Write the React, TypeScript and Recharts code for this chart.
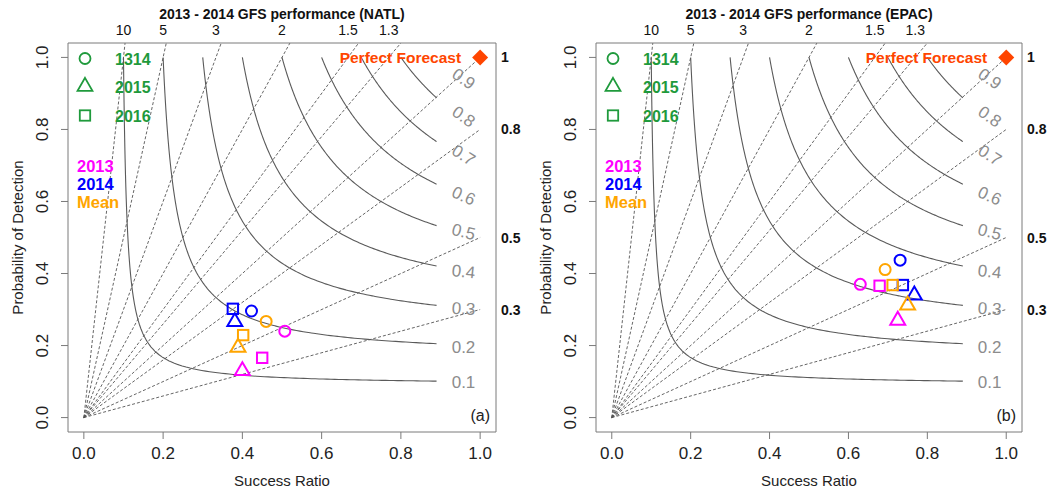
import React from 'react';
import { ComposedChart, Line, Scatter, XAxis, YAxis, ReferenceLine, ReferenceDot } from 'recharts';

const FONT = '"Liberation Sans", Arial, Helvetica, sans-serif';

// ---- reference isolines of the performance diagram ----
const csiLevels = [0.1, 0.2, 0.3, 0.4, 0.5, 0.6, 0.7, 0.8, 0.9];
const csiLabelSR = 0.958;
const csiLabelPOD = [0.097, 0.195, 0.302, 0.405, 0.515, 0.615, 0.728, 0.835, 0.94];
const biasLevels = [0.3, 0.5, 0.8, 1, 1.3, 1.5, 2, 3, 5, 10];
const biasTopLabels = [10, 5, 3, 2, 1.5, 1.3];
const biasRightLabels = [1, 0.8, 0.5, 0.3];
const axisTicks = [0, 0.2, 0.4, 0.6, 0.8, 1.0];
const srEnd = 0.89;

// ---- legend categories ----
const seasons = ['1314', '2015', '2016'];
const seasonShapes = ['circle', 'triangle', 'square'];
const groups = ['2013', '2014', 'Mean'];

// ---- NATL values (order: 1314, 2015, 2016) ----
const natl2013SR = [0.507, 0.4, 0.45];
const natl2013POD = [0.24, 0.13, 0.166];
const natl2014SR = [0.423, 0.381, 0.376];
const natl2014POD = [0.296, 0.266, 0.302];
const natlMeanSR = [0.46, 0.389, 0.402];
const natlMeanPOD = [0.267, 0.195, 0.229];

// ---- EPAC values (order: 1314, 2015, 2016) ----
const epac2013SR = [0.63, 0.725, 0.679];
const epac2013POD = [0.37, 0.27, 0.366];
const epac2014SR = [0.731, 0.767, 0.738];
const epac2014POD = [0.437, 0.34, 0.368];
const epacMeanSR = [0.693, 0.75, 0.712];
const epacMeanPOD = [0.411, 0.312, 0.368];

// styles
const groupColors = ['#ff00ff', '#0000ff', '#ffa500'];
const legendGreen = '#1f9a3c';
const csiLabelAngles = [0, 0, 3, 6, 14, 24, 33, 35, 35];
const DOMAIN: [number, number] = [-0.04, 1.04];

function csiCurve(c: number) {
  const podOf = (sr: number) => 1 / (1 / c - 1 / sr + 1);
  const srOf = (pod: number) => 1 / (1 / c - 1 / pod + 1);
  const podEnd = podOf(srEnd);
  const xs: number[] = [];
  const n = 80;
  for (let i = 0; i <= n; i++) xs.push(c + ((srEnd - c) * i) / n);
  for (let i = 1; i < n; i++) xs.push(srOf(1 - ((1 - podEnd) * i) / n));
  xs.sort((a, b) => a - b);
  return xs.map((x) => ({ x, y: podOf(x) }));
}

const csiCurves = csiLevels.filter((c) => c < srEnd).map((c) => ({ c, pts: csiCurve(c) }));
const csiLabelData = csiLevels.map((c, i) => ({ x: csiLabelSR, y: csiLabelPOD[i], label: String(c), i }));

function buildGroup(sr: number[], pod: number[]) {
  return seasons.map((s, i) => ({ x: sr[i], y: pod[i], kind: seasonShapes[i] }));
}

const natlGroups = [
  buildGroup(natl2013SR, natl2013POD),
  buildGroup(natl2014SR, natl2014POD),
  buildGroup(natlMeanSR, natlMeanPOD),
];
const epacGroups = [
  buildGroup(epac2013SR, epac2013POD),
  buildGroup(epac2014SR, epac2014POD),
  buildGroup(epacMeanSR, epacMeanPOD),
];

function Symbol({ kind, cx, cy, color, sw = 2 }: any) {
  if (kind === 'circle') return <circle cx={cx} cy={cy} r={5.5} fill="none" stroke={color} strokeWidth={sw} />;
  if (kind === 'square')
    return <rect x={cx - 5.2} y={cy - 5.2} width={10.4} height={10.4} fill="none" stroke={color} strokeWidth={sw} />;
  const r = 8.6;
  const pts = `${cx},${cy - r} ${cx + r * 0.866},${cy + r / 2} ${cx - r * 0.866},${cy + r / 2}`;
  return <polygon points={pts} fill="none" stroke={color} strokeWidth={sw} strokeLinejoin="miter" />;
}

const H = 492;
const TOP_H = 43;
const BOT_H = 60;

function Panel({ left, yW, rW, title, letter, data }: any) {
  const W = 530;
  const boxL = yW;
  const boxR = W - rW;
  const boxT = TOP_H;
  const boxB = H - BOT_H;
  const cxBox = (boxL + boxR) / 2;
  const cyBox = (boxT + boxB) / 2;
  const axisColor = '#7a7a7a';

  const LeftTick = (p: any) => {
    const x = p.x - 18;
    return (
      <text x={x} y={p.y} transform={`rotate(-90 ${x} ${p.y})`} textAnchor="middle" dominantBaseline="central"
        fontSize={17} fontFamily={FONT} fill="#222">{Number(p.payload.value).toFixed(1)}</text>
    );
  };
  const BottomTick = (p: any) => (
    <text x={p.x} y={p.y + 20} textAnchor="middle" fontSize={17} fontFamily={FONT} fill="#222">
      {Number(p.payload.value).toFixed(1)}
    </text>
  );
  const TopTick = (p: any) => (
    <text x={p.x} y={p.y - 8} textAnchor="middle" fontSize={14} fontFamily={FONT} fill="#111">
      {String(biasTopLabels[p.index])}
    </text>
  );
  const RightTick = (p: any) => (
    <text x={p.x + 5} y={p.y} textAnchor="start" dominantBaseline="central" fontSize={14} fontWeight="bold"
      fontFamily={FONT} fill="#111">
      {String(p.payload.value)}
    </text>
  );

  return (
    <div style={{ position: 'absolute', left, top: 0, width: W, height: H }}>
      <ComposedChart width={W} height={H} margin={{ top: 0, right: 0, bottom: 0, left: 0 }}>
        <XAxis xAxisId={0} dataKey="x" type="number" domain={DOMAIN} allowDataOverflow ticks={axisTicks} interval={0}
          height={BOT_H} tickSize={7} tickMargin={0} stroke={axisColor} tick={BottomTick}
          axisLine={{ stroke: axisColor }} tickLine={{ stroke: axisColor }} />
        <XAxis xAxisId="top" orientation="top" dataKey="x" type="number" domain={DOMAIN} allowDataOverflow
          ticks={biasTopLabels.map((b) => 1 / b)} interval={0} height={TOP_H} tickSize={0} tickMargin={0}
          tick={TopTick} tickLine={false} axisLine={{ stroke: axisColor }} />
        <YAxis yAxisId={0} type="number" domain={DOMAIN} allowDataOverflow ticks={axisTicks} interval={0} width={yW}
          tickSize={7} tickMargin={0} tick={LeftTick} axisLine={{ stroke: axisColor }} tickLine={{ stroke: axisColor }} />
        <YAxis yAxisId="right" orientation="right" type="number" domain={DOMAIN} allowDataOverflow
          ticks={biasRightLabels} interval={0} width={rW} tickSize={0} tickMargin={0} tick={RightTick}
          tickLine={false} axisLine={{ stroke: axisColor }} />

        {csiCurves.map(({ c, pts }) => (
          <Line key={'csi' + c} data={pts} dataKey="y" type="linear" dot={false} activeDot={false}
            stroke="#5a5a5a" strokeWidth={1.1} isAnimationActive={false} />
        ))}

        {biasLevels.map((b) => (
          <ReferenceLine key={'b' + b} ifOverflow="visible"
            segment={b <= 1 ? [{ x: 0, y: 0 }, { x: 1, y: b }] : [{ x: 0, y: 0 }, { x: DOMAIN[1] / b, y: DOMAIN[1] }]}
            stroke="#555" strokeWidth={0.9} strokeDasharray="3 2" />
        ))}

        <Scatter data={csiLabelData} dataKey="y" isAnimationActive={false}
          shape={(p: any) => (
            <text x={p.cx} y={p.cy} textAnchor="middle" dominantBaseline="central" fontSize={17} fontFamily={FONT}
              fill="#8c8c8c" transform={`rotate(${csiLabelAngles[p.payload.i]} ${p.cx} ${p.cy})`}>
              {p.payload.label}
            </text>
          )} />

        {data.map((g: any[], gi: number) => (
          <Scatter key={'g' + gi} data={g} dataKey="y" isAnimationActive={false}
            shape={(p: any) => <Symbol kind={p.payload.kind} cx={p.cx} cy={p.cy} color={groupColors[gi]} />} />
        ))}

        <ReferenceDot xAxisId="top" yAxisId="right" x={1} y={1} ifOverflow="visible"
          shape={(p: any) => (
            <g>
              <text x={p.cx - 19} y={p.cy + 6} textAnchor="end" fontSize={15.5} fontWeight="bold" fontFamily={FONT}
                fill="#ff4500">Perfect Forecast</text>
              <polygon points={`${p.cx},${p.cy - 8} ${p.cx + 8},${p.cy} ${p.cx},${p.cy + 8} ${p.cx - 8},${p.cy}`}
                fill="#ff4500" />
            </g>
          )} />
      </ComposedChart>

      <svg width={W} height={H} style={{ position: 'absolute', left: 0, top: 0, pointerEvents: 'none' }}>
        <text x={cxBox} y={19} textAnchor="middle" fontSize={14} fontWeight="bold" fontFamily={FONT} fill="#111">{title}</text>
        <text x={cxBox} y={486} textAnchor="middle" fontSize={15} fontFamily={FONT} fill="#222">Success Ratio</text>
        <text x={boxL - 51} y={cyBox} transform={`rotate(-90 ${boxL - 51} ${cyBox})`} textAnchor="middle"
          dominantBaseline="central" fontSize={15} fontFamily={FONT} fill="#222">Probability of Detection</text>

        {seasons.map((s, i) => {
          const base = [65, 93, 122][i];
          return (
            <g key={s}>
              <Symbol kind={seasonShapes[i]} cx={boxL + 17} cy={base - 6.5} color={legendGreen} sw={1.8} />
              <text x={boxL + 47} y={base} fontSize={16} fontWeight="bold" fontFamily={FONT} fill={legendGreen}>{s}</text>
            </g>
          );
        })}
        {groups.map((g, i) => (
          <text key={g} x={boxL + 9} y={[172, 189.5, 207.5][i]} fontSize={16.5} fontWeight="bold" fontFamily={FONT}
            fill={groupColors[i]}>{g}</text>
        ))}
        <text x={boxR - 6} y={421} textAnchor="end" fontSize={16} fontFamily={FONT} fill="#222">{letter}</text>
      </svg>
    </div>
  );
}

export default function App() {
  return (
    <div style={{ position: 'absolute', left: 0, top: 0, width: 1061, height: 492, background: '#fff' }}>
      <Panel left={0} yW={68} rW={34} title="2013 - 2014 GFS performance (NATL)" letter="(a)" data={natlGroups} />
      <Panel left={530} yW={66} rW={38} title="2013 - 2014 GFS performance (EPAC)" letter="(b)" data={epacGroups} />
    </div>
  );
}
